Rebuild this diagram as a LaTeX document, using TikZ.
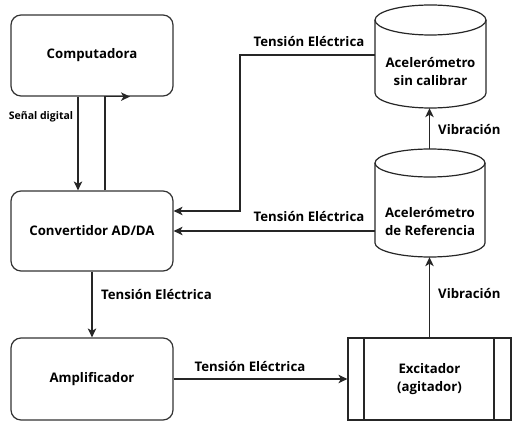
\documentclass[tikz,border=0pt]{standalone}
\usepackage{fontspec}
\setmainfont{Open Sans}[BoldFont={* Bold}]
\usetikzlibrary{arrows.meta}
\begin{document}
\begin{tikzpicture}[x=1pt,y=1pt,
  box/.style={draw=black!80, line width=1.2pt, rounded corners=10pt, align=center, font=\bfseries\fontsize{13.2}{18}\selectfont},
  exbox/.style={draw=black!85, line width=1.2pt, align=center, font=\bfseries\fontsize{13.2}{18}\selectfont},
  cylarea/.style={inner sep=0pt},
  cyltext/.style={align=center, font=\bfseries\fontsize{13.2}{18}\selectfont, inner sep=0pt},
  cyl/.style={draw=black!85, line width=1.2pt},
  arr/.style={draw=black!85, line width=1.2pt, -{Stealth[length=9pt,width=8.5pt,inset=2.5pt]}},
  ln/.style={draw=black!85, line width=1.2pt},
  lbl/.style={font=\bfseries\fontsize{13.2}{16}\selectfont, inner sep=0pt},
  slbl/.style={font=\bfseries\fontsize{10.5}{12}\selectfont, inner sep=0pt}]
\useasboundingbox (0,0) rectangle (512,421);
% boxes
\node[box, minimum width=162pt, minimum height=81pt] (comp) at (92,365.5) {Computadora};
\node[box, minimum width=162pt, minimum height=80pt] (conv) at (92,190) {Convertidor AD/DA};
\node[box, minimum width=162pt, minimum height=82pt] (amp) at (92,42) {Amplificador};
\node[exbox, minimum width=163pt, minimum height=82pt] (exc) at (429.5,42) {Excitador\\(agitador)};
\draw[ln] (364,1) -- (364,83) (494,1) -- (494,83);
% cylinders
\node[cylarea, minimum width=111pt, minimum height=103pt] (uncal) at (430.5,364.5) {};
\node[cyltext] (uncalt) at (430.5,349) {Acelerómetro\\sin calibrar};
\draw[cyl] (430.5,401) ellipse [x radius=55.5, y radius=15];
\draw[cyl] (375,401) -- (375,328) arc [start angle=180, end angle=360, x radius=55.5, y radius=15] -- (486,401);
\node[cylarea, minimum width=110pt, minimum height=108pt] (ref) at (430,218) {};
\node[cyltext] (reft) at (430,199.5) {Acelerómetro\\de Referencia};
\draw[cyl] (430,258) ellipse [x radius=55, y radius=14];
\draw[cyl] (375,258) -- (375,178) arc [start angle=180, end angle=360, x radius=55, y radius=14] -- (485,258);
% helper coordinates
\coordinate (xa) at (78,0);
\coordinate (xb) at (105,0);
\coordinate (xc) at (130,0);
\coordinate (xd) at (240,0);
\coordinate (yu) at (0,366);
\coordinate (yc) at (0,210);
% connectors
\draw[arr] (comp.south -| xa) -- (conv.north -| xa);
\draw[arr] (conv.north -| xb) -- (comp.south -| xb) -- (comp.south -| xc);
\draw[arr] (conv.south) -- (amp.north);
\draw[arr] (amp.east) -- (exc.west);
\draw[arr] (exc.north) -- (exc.north |- ref.south);
\draw[arr] (exc.north |- ref.north) -- (exc.north |- uncal.south);
\draw[arr] (ref.west |- conv.east) -- (conv.east);
\draw[arr] (uncal.west |- yu) -- (xd |- yu) -- (xd |- yc) -- (conv.east |- yc);
% labels
\node[slbl] (l0) at (41,304) {Señal digital};
\node[lbl, anchor=west] (l1) at (101,126) {Tensión Eléctrica};
\node[lbl] (l2) at (250,54) {Tensión Eléctrica};
\node[lbl, anchor=west] (l3) at (438,127) {Vibración};
\node[lbl, anchor=west] (l4) at (438,291) {Vibración};
\node[lbl] (l5) at (309,204) {Tensión Eléctrica};
\node[lbl] (l6) at (309,379) {Tensión Eléctrica};
\end{tikzpicture}
\end{document}
